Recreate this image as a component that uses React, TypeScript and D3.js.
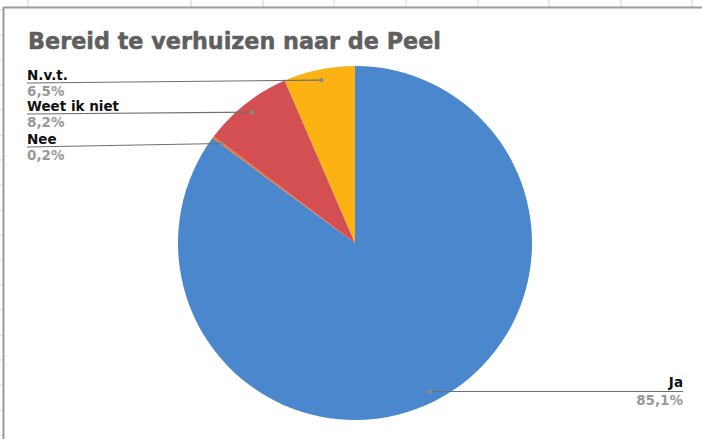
import React from "react";
import * as d3 from "d3";

const categories = ["Ja", "Nee", "Weet ik niet", "N.v.t."];
const values = [85.1, 0.2, 8.2, 6.5];
const valueLabels = ["85,1%", "0,2%", "8,2%", "6,5%"];
const colors = ["#4A87CD", "#E8772E", "#D44F52", "#FBB212"];
const title = "Bereid te verhuizen naar de Peel";

// label layout: side and y of the underline
const labelLayout: Record<string, { side: "left" | "right"; lineY: number | null }> = {
  "Ja": { side: "right", lineY: null },
  "Nee": { side: "left", lineY: 147 },
  "Weet ik niet": { side: "left", lineY: 114 },
  "N.v.t.": { side: "left", lineY: 83 },
};

const labelFont = "'DejaVu Sans', Verdana, sans-serif";

export default function App() {
  const W = 702, H = 439;
  const cx = 355, cy = 243, r = 177;
  const pie = d3.pie<number>().sort(null).value((d) => d)(values);
  const arc = d3.arc<d3.PieArcDatum<number>>().innerRadius(0).outerRadius(r);
  const dotArc = d3.arc<d3.PieArcDatum<number>>().innerRadius(r * 0.94).outerRadius(r * 0.94);

  const vGrid = [28, 191, 263, 334, 406, 478, 549, 621, 692];
  const hGrid = d3.range(10, 440, 25);

  return (
    <svg width={W} height={H} style={{ position: "absolute", left: 0, top: 0, background: "#fff" }}
      fontFamily={labelFont}>
      {/* spreadsheet grid outside the chart */}
      {vGrid.map((x) => (
        <line key={"v" + x} x1={x} x2={x} y1={0} y2={7} stroke="#d4d4d4" strokeWidth={1} />
      ))}
      {hGrid.map((y) => (
        <line key={"h" + y} x1={0} x2={3} y1={y} y2={y} stroke="#d4d4d4" strokeWidth={1} />
      ))}
      {/* chart frame */}
      <line x1={3} x2={W} y1={7.5} y2={7.5} stroke="#9b9b9b" strokeWidth={2} />
      <line x1={3.5} x2={3.5} y1={7} y2={H} stroke="#9b9b9b" strokeWidth={2} />

      <text x={28} y={48.5} fontSize={22.5} fontWeight="bold" fill="#5f5f5f"
        fontFamily={labelFont} stroke="#5f5f5f" strokeWidth={0.5}
        textLength={413} lengthAdjust="spacingAndGlyphs">
        {title}
      </text>

      <g transform={`translate(${cx},${cy})`}>
        {pie.map((p, i) => (
          <path key={i} d={arc(p) || ""} fill={colors[i]} />
        ))}
      </g>

      {pie.map((p, i) => {
        const [dx, dy] = dotArc.centroid(p);
        const px = cx + dx, py = cy + dy;
        const lay = labelLayout[categories[i]];
        if (lay.side === "left") {
          const ly = lay.lineY as number;
          return (
            <g key={"l" + i}>
              <line x1={27} y1={ly} x2={px} y2={py} stroke="#6f6f6f" strokeWidth={1.2} />
              <circle cx={px} cy={py} r={2.2} fill="#8a8a8a" />
              <text x={27} y={ly - 3.5} fontSize={13.5} fontWeight="bold" fill="#111">{categories[i]}</text>
              <text x={27} y={ly + 13} fontSize={13.5} fontWeight="bold" fill="#999">{valueLabels[i]}</text>
            </g>
          );
        }
        const ly = py;
        return (
          <g key={"l" + i}>
            <line x1={px} y1={ly} x2={683} y2={ly} stroke="#6f6f6f" strokeWidth={1.2} />
            <circle cx={px} cy={py} r={2.2} fill="#8a8a8a" />
            <text x={683} y={ly - 4} fontSize={13.5} fontWeight="bold" fill="#111" textAnchor="end">{categories[i]}</text>
            <text x={683} y={ly + 13.5} fontSize={13.5} fontWeight="bold" fill="#999" textAnchor="end">{valueLabels[i]}</text>
          </g>
        );
      })}
    </svg>
  );
}
